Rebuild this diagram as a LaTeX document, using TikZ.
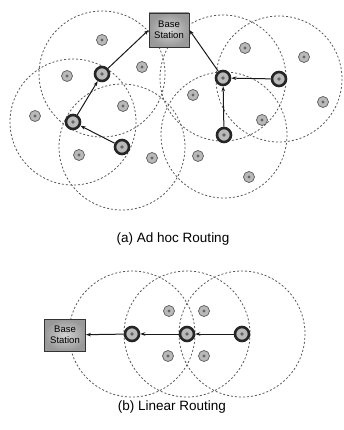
\documentclass[tikz,border=0pt]{standalone}
\usepackage{fontspec}
\setmainfont{Liberation Sans}
\usetikzlibrary{arrows.meta}
\begin{document}
\begin{tikzpicture}[x=1pt,y=-1pt,
 rng/.style={draw=black!65,dash pattern=on 2pt off 2pt,line width=0.8pt},
 sn/.style={circle,inner sep=0pt,minimum size=11pt,fill=gray!55,draw=gray!70!black,line width=0.7pt,
   path picture={\fill[black!60] (path picture bounding box.center) circle (1.6pt);}},
 ch/.style={circle,inner sep=0pt,minimum size=14pt,fill=gray!55,draw=black!85,line width=2.6pt,
   path picture={\fill[black!60] (path picture bounding box.center) circle (1.8pt);}},
 bs/.style={draw=black!80,line width=0.8pt,minimum width=40pt,minimum height=34pt,inner sep=1pt,
   inner color=gray!35,outer color=gray!80,align=center,font=\fontsize{9.5}{10.5}\selectfont},
 lnk/.style={-{Stealth[length=5pt,width=3.5pt]},line width=1pt,black!90},
 captxt/.style={font=\fontsize{13.5}{15}\selectfont}]
\useasboundingbox (0,0) rectangle (343,430);
% (a) coordinates
\coordinate (pa1) at (102,74);
\coordinate (pa2) at (73,122);
\coordinate (pa3) at (122,147);
\coordinate (pa4) at (223,78);
\coordinate (pa5) at (279,79);
\coordinate (pa6) at (224,135);
\foreach \c in {pa1,pa2,pa3,pa4,pa5,pa6} \draw[rng] (\c) circle (63);
% (b) coordinates
\coordinate (pb1) at (132,334);
\coordinate (pb2) at (187,334);
\coordinate (pb3) at (242,334);
\foreach \c in {pb1,pb2,pb3} \draw[rng] (\c) circle (63);
% (a) nodes
\node[bs] (bsa) at (169,30) {Base\\Station};
\node[ch] (h1) at (pa1) {};
\node[ch] (h2) at (pa2) {};
\node[ch] (h3) at (pa3) {};
\node[ch] (h4) at (pa4) {};
\node[ch] (h5) at (pa5) {};
\node[ch] (h6) at (pa6) {};
\node[sn] (s1) at (102,40) {};
\node[sn] (s2) at (67,76) {};
\node[sn] (s3) at (142,67) {};
\node[sn] (s4) at (35,116) {};
\node[sn] (s5) at (123,106) {};
\node[sn] (s6) at (79,155) {};
\node[sn] (s7) at (152,158) {};
\node[sn] (s8) at (245,48) {};
\node[sn] (s9) at (304,57) {};
\node[sn] (s10) at (193,95) {};
\node[sn] (s11) at (323,102) {};
\node[sn] (s12) at (262,120) {};
\node[sn] (s13) at (198,156) {};
\node[sn] (s14) at (249,177) {};
\draw[lnk] (h3) -- (h2);
\draw[lnk] (h2) -- (h1);
\draw[lnk] (h1) -- (bsa.west);
\draw[lnk] (h5) -- (h4);
\draw[lnk] (h6) -- (h4);
\draw[lnk] (h4) -- (bsa.east);
\node[captxt] (capa) at (173,239) {(a) Ad hoc Routing};
% (b) nodes
\node[bs,minimum width=41pt,minimum height=32pt] (bsb) at (65,335) {Base\\Station};
\node[ch] (k1) at (pb1) {};
\node[ch] (k2) at (pb2) {};
\node[ch] (k3) at (pb3) {};
\node[sn] (t1) at (169,311) {};
\node[sn] (t2) at (204,311) {};
\node[sn] (t3) at (168,356) {};
\node[sn] (t4) at (204,356) {};
\draw[lnk] (k3) -- (k2);
\draw[lnk] (k2) -- (k1);
\draw[lnk] (k1) -- (bsb);
\node[captxt] (capb) at (172,407) {(b) Linear Routing};
\end{tikzpicture}
\end{document}
